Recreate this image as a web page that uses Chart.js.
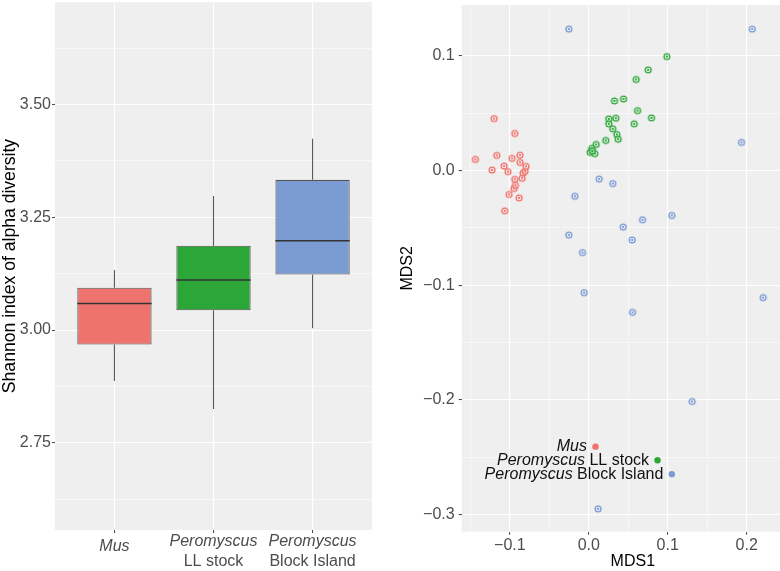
<!DOCTYPE html>
<html><head><meta charset="utf-8">
<script src="https://cdn.jsdelivr.net/npm/chart.js@4/dist/chart.umd.min.js"></script>
<style>
html,body{margin:0;padding:0;background:#fff;overflow:hidden;width:780px;height:571px;position:relative}
#l{position:absolute;left:0;top:0;width:390px;height:571px}
#r{position:absolute;left:390px;top:0;width:420px;height:571px}
</style></head><body>
<div id="l"><canvas id="c1" width="390" height="571"></canvas></div>
<div id="r"><canvas id="c2" width="420" height="571"></canvas></div>
<script>
// ---------- data ----------
const groupItalic = ['Mus', 'Peromyscus', 'Peromyscus'];
const groupPlain = ['', 'LL stock', 'Block Island'];
const groupColors = ['#EF736D', '#2CA737', '#7B9BD3'];
const pointColors = ['#EE6F69', '#2BA637', '#7797D2'];

const whiskerLow = [2.887, 2.825, 3.004];
const boxQ1 = [2.968, 3.044, 3.123];
const boxMedian = [3.059, 3.111, 3.198];
const boxQ3 = [3.094, 3.187, 3.333];
const whiskerHigh = [3.133, 3.297, 3.424];

const shannonMajorTicks = [2.75, 3.00, 3.25, 3.50];
const mdsMajorTicks = [-0.3, -0.2, -0.1, 0.0, 0.1, 0.2];

const musX = [-0.1436,-0.1225,-0.1200,-0.1166,-0.1073,-0.1065,-0.1023,-0.1010,-0.0972,-0.0947,-0.0938,-0.0938,-0.0929,-0.0883,-0.0871,-0.0871,-0.0845,-0.0833,-0.0807,-0.0795];
const musY = [0.0098,0.0005,0.0454,0.0133,0.0040,-0.0351,-0.0009,-0.0208,0.0107,-0.0156,-0.0076,0.0324,-0.0128,-0.0238,0.0135,0.0072,-0.0067,-0.0021,-0.0006,0.0037];
const llX = [0.0989,0.0752,0.0600,0.0440,0.0325,0.0617,0.0253,0.0342,0.0794,0.0253,0.0575,0.0304,0.0355,0.0372,0.0215,0.0093,0.0038,0.0017,0.0076,0.0044];
const llY = [0.0995,0.0879,0.0795,0.0625,0.0608,0.0523,0.0451,0.0457,0.0460,0.0408,0.0408,0.0365,0.0315,0.0274,0.0263,0.0228,0.0194,0.0159,0.0148,0.0172];
const biX = [-0.0253,0.2070,0.1935,0.0131,0.0304,-0.0177,0.1052,0.0681,0.0435,-0.0253,0.0549,-0.0080,-0.0059,0.0554,0.2209,0.1309,0.0118];
const biY = [0.1235,0.1235,0.0246,-0.0073,-0.0113,-0.0223,-0.0391,-0.0429,-0.0492,-0.0562,-0.0605,-0.0715,-0.1065,-0.1236,-0.1108,-0.2014,-0.2951];

// ---------- helpers ----------
const FONT = '"Liberation Sans", Arial, sans-serif';
const TICK_COLOR = '#4D4D4D';
const PANEL_BG = '#EFEFEF';
const isMult = (v, s) => Math.abs(Math.round(v / s) * s - v) < 1e-7;
const fmtMinus = s => s.replace('-', '\u2212');

const panelBg = {
  id: 'panelBg',
  beforeDraw(chart) {
    const {ctx, chartArea: a} = chart;
    ctx.save(); ctx.fillStyle = PANEL_BG;
    ctx.fillRect(a.left, a.top, a.right - a.left, a.bottom - a.top);
    ctx.restore();
  }
};

function gridOpts(step) {
  return {
    color: '#FFFFFF',
    offset: false,
    lineWidth: c => (c.tick && isMult(c.tick.value, step)) ? 1.1 : 0.5,
    tickColor: c => (c.tick && isMult(c.tick.value, step)) ? '#444' : 'rgba(0,0,0,0)',
    tickLength: 3,
    tickWidth: 1,
    drawOnChartArea: true
  };
}
const fixY = w => s => { s.width = w; s.paddingTop = 0; s.paddingBottom = 0; };
const fixX = h => s => { s.height = h; s.paddingLeft = 0; s.paddingRight = 0; };

// ---------- left: box plot ----------
const boxExtras = {
  id: 'boxExtras',
  beforeDatasetsDraw(chart) {
    const {ctx, scales: {x, y}} = chart;
    ctx.save();
    ctx.strokeStyle = '#5A5A5A'; ctx.lineWidth = 1.1;
    for (let i = 0; i < boxQ1.length; i++) {
      const px = x.getPixelForValue(i + 1);
      ctx.beginPath();
      ctx.moveTo(px, y.getPixelForValue(whiskerHigh[i]));
      ctx.lineTo(px, y.getPixelForValue(boxQ3[i]));
      ctx.moveTo(px, y.getPixelForValue(boxQ1[i]));
      ctx.lineTo(px, y.getPixelForValue(whiskerLow[i]));
      ctx.stroke();
    }
    ctx.restore();
  },
  afterDatasetsDraw(chart) {
    const {ctx, scales: {x, y}} = chart;
    const meta = chart.getDatasetMeta(0);
    ctx.save();
    ctx.strokeStyle = '#333'; ctx.lineWidth = 1.6;
    for (let i = 0; i < boxMedian.length; i++) {
      const bar = meta.data[i];
      const half = bar.width / 2;
      const py = y.getPixelForValue(boxMedian[i]);
      ctx.beginPath();
      ctx.moveTo(bar.x - half, py); ctx.lineTo(bar.x + half, py);
      ctx.stroke();
    }
    // category labels
    ctx.fillStyle = TICK_COLOR; ctx.textAlign = 'center'; ctx.textBaseline = 'middle';
    for (let i = 0; i < groupItalic.length; i++) {
      const px = x.getPixelForValue(i + 1);
      if (groupPlain[i]) {
        ctx.font = 'italic 16px ' + FONT;
        ctx.fillText(groupItalic[i], px, 542);
        ctx.font = '16px ' + FONT;
        ctx.fillText(groupPlain[i], px, 562);
      } else {
        ctx.font = 'italic 16px ' + FONT;
        ctx.fillText(groupItalic[i], px, 547);
      }
    }
    ctx.restore();
  }
};

new Chart(document.getElementById('c1'), {
  type: 'bar',
  data: {
    datasets: [{
      data: boxQ1.map((q, i) => ({x: i + 1, y: [q, boxQ3[i]]})),
      backgroundColor: groupColors,
      borderColor: '#555',
      borderWidth: 1.1,
      borderSkipped: false,
      barPercentage: 0.75,
      categoryPercentage: 1.0
    }]
  },
  options: {
    responsive: false, animation: false,
    layout: {padding: {top: 2, right: 18, left: 0, bottom: 0}},
    plugins: {legend: {display: false}, tooltip: {enabled: false}},
    scales: {
      x: {
        type: 'linear', min: 0.4, max: 3.6, offset: false,
        ticks: {stepSize: 1, includeBounds: false, callback: () => '', padding: 0},
        grid: gridOpts(1),
        border: {display: false},
        afterFit: fixX(41)
      },
      y: {
        type: 'linear', min: 2.557, max: 3.727,
        ticks: {
          stepSize: 0.125, includeBounds: false, padding: 1,
          color: TICK_COLOR, font: {family: FONT, size: 16},
          callback: v => isMult(v, 0.25) ? v.toFixed(2) : ''
        },
        grid: gridOpts(0.25),
        border: {display: false},
        title: {display: true, text: 'Shannon index of alpha diversity', color: '#000',
                font: {family: FONT, size: 17.6}, padding: {top: 0, bottom: 0}},
        afterFit: fixY(55)
      }
    }
  },
  plugins: [panelBg, boxExtras]
});

// ---------- right: MDS scatter ----------
function markerImage(color) {
  const c = document.createElement('canvas');
  c.width = 10; c.height = 10;
  const g = c.getContext('2d');
  g.beginPath(); g.arc(5, 5, 2.9, 0, Math.PI * 2);
  g.fillStyle = 'rgba(255,255,255,0.5)'; g.fill();
  g.strokeStyle = color; g.lineWidth = 1.35; g.stroke();
  g.beginPath(); g.arc(5, 5, 1.15, 0, Math.PI * 2);
  g.fillStyle = color; g.fill();
  return c;
}

const legendAnchors = [[0.0085, -0.2408], [0.0871, -0.2527], [0.1052, -0.2648]];

const mdsLegend = {
  id: 'mdsLegend',
  afterDatasetsDraw(chart) {
    const {ctx, scales: {x, y}} = chart;
    ctx.save();
    ctx.textBaseline = 'middle';
    for (let i = 0; i < legendAnchors.length; i++) {
      const px = x.getPixelForValue(legendAnchors[i][0]);
      const py = y.getPixelForValue(legendAnchors[i][1]);
      ctx.beginPath(); ctx.arc(px, py, 3.2, 0, Math.PI * 2);
      ctx.fillStyle = groupColors[i]; ctx.fill();
      let end = px - 8.5;
      ctx.fillStyle = '#111'; ctx.textAlign = 'right';
      if (groupPlain[i]) {
        ctx.font = '16px ' + FONT;
        const t = ' ' + groupPlain[i];
        ctx.fillText(t, end, py);
        end -= ctx.measureText(t).width;
      }
      ctx.font = 'italic 16px ' + FONT;
      ctx.fillText(groupItalic[i], end, py);
    }
    ctx.restore();
  }
};

const scatterSets = [[musX, musY], [llX, llY], [biX, biY]].map(([xs, ys], i) => ({
  data: xs.map((v, j) => ({x: v, y: ys[j]})),
  pointStyle: markerImage(pointColors[i]),
  pointRadius: 4,
  showLine: false
}));

new Chart(document.getElementById('c2'), {
  type: 'scatter',
  data: {datasets: scatterSets},
  options: {
    responsive: false, animation: false,
    layout: {padding: {top: 2, right: 6, left: 0, bottom: 0}},
    plugins: {legend: {display: false}, tooltip: {enabled: false}},
    scales: {
      x: {
        type: 'linear', min: -0.161, max: 0.2726,
        ticks: {
          stepSize: 0.05, includeBounds: false, padding: 1, maxRotation: 0, autoSkip: false,
          color: TICK_COLOR, font: {family: FONT, size: 16},
          callback: v => isMult(v, 0.1) ? fmtMinus(v.toFixed(1)) : ''
        },
        grid: gridOpts(0.1),
        border: {display: false},
        title: {display: true, text: 'MDS1', color: '#000', font: {family: FONT, size: 16},
                padding: {top: 0, bottom: 0}},
        afterFit: fixX(39.3)
      },
      y: {
        type: 'linear', min: -0.315, max: 0.1445,
        ticks: {
          stepSize: 0.05, includeBounds: false, padding: 4, autoSkip: false,
          color: TICK_COLOR, font: {family: FONT, size: 16},
          callback: v => isMult(v, 0.1) ? fmtMinus(v.toFixed(1)) : ''
        },
        grid: gridOpts(0.1),
        border: {display: false},
        title: {display: true, text: 'MDS2', color: '#000', font: {family: FONT, size: 16},
                padding: {top: 8.4, bottom: 0}},
        afterFit: fixY(71.7)
      }
    }
  },
  plugins: [panelBg, mdsLegend]
});
</script>
</body></html>
